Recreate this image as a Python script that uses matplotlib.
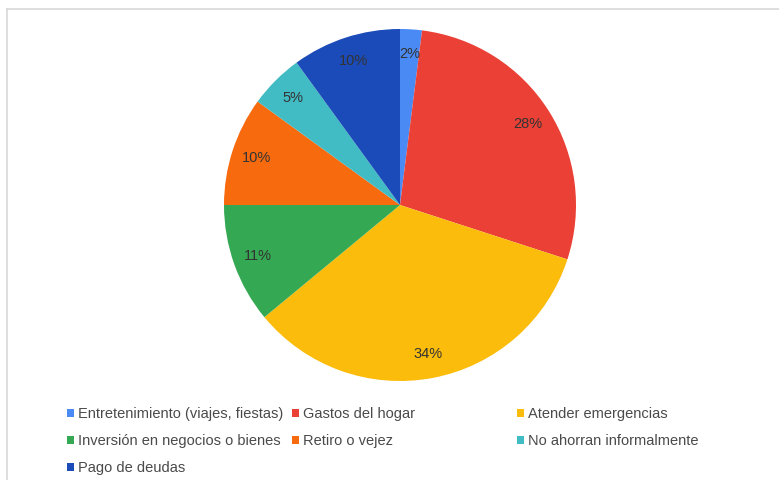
import matplotlib.pyplot as plt
from matplotlib.lines import Line2D

plt.rcParams['font.family'] = ['Liberation Sans', 'DejaVu Sans']

# datos del grafico
categorias = ['Entretenimiento (viajes, fiestas)', 'Gastos del hogar', 'Atender emergencias',
              'Inversión en negocios o bienes', 'Retiro o vejez', 'No ahorran informalmente',
              'Pago de deudas']
porcentajes = [2, 28, 34, 11, 10, 5, 10]
colores = ['#4a8af4', '#ea4035', '#fbbc0c', '#34a853', '#f76a0e', '#42bcc4', '#1b4bb8']

W, H = 779, 480
fig = plt.figure(figsize=(W / 100, H / 100), dpi=100)

# pie centered at (400, 205) px, radius 176 px
cx, cy, r = 400, 205, 176
ax = fig.add_axes([(cx - r) / W, (H - cy - r) / H, 2 * r / W, 2 * r / H])
wedges, texts, autotexts = ax.pie(
    porcentajes, colors=colores, startangle=90, counterclock=False,
    autopct='%d%%', pctdistance=0.86, radius=1,
    wedgeprops=dict(linewidth=0),
    textprops=dict(color='#333333', fontsize=10.5))
ax.set_xlim(-1, 1)
ax.set_ylim(-1, 1)
ax.set_aspect('equal')
ax.axis('off')

# legend: 3 columns of fixed width, row-major ordering
col_x = [67, 292, 517]
for c in range(3):
    hs = wedges[c::3]
    ls = categorias[c::3]
    fig.legend(hs, ls, loc='upper left', bbox_to_anchor=(col_x[c] / W, 1 - 407 / H),
               frameon=False, fontsize=10.5, handlelength=0.5, handleheight=0.5,
               handletextpad=0.25, labelspacing=0.9, borderpad=0, borderaxespad=0,
               labelcolor='#4a4a4a')

# thin frame lines at top and left
fig.add_artist(Line2D([7 / W, 1], [1 - 9 / H, 1 - 9 / H], color='#d8d8d8', lw=1.2))
fig.add_artist(Line2D([7 / W, 7 / W], [0, 1 - 9 / H], color='#d8d8d8', lw=1.2))

fig.savefig('out.png', dpi=100, facecolor='white')
